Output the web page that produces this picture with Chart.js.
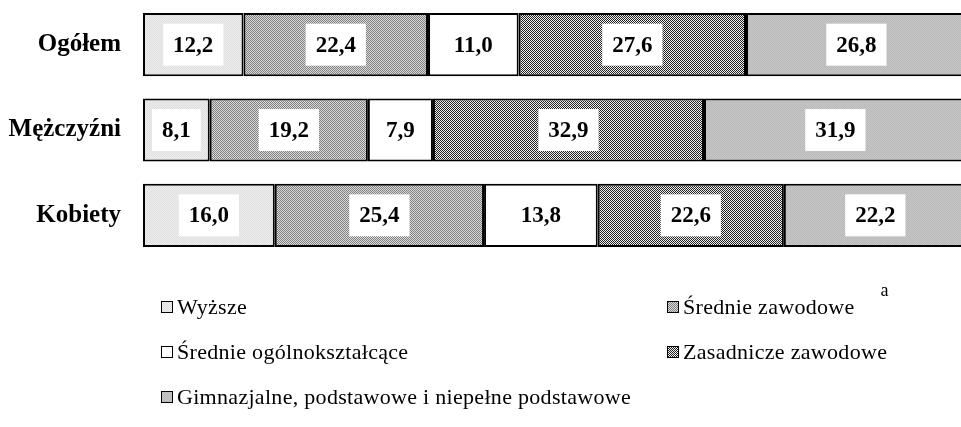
<!DOCTYPE html>
<html>
<head>
<meta charset="utf-8">
<script src="https://cdn.jsdelivr.net/npm/chart.js@4.4.0/dist/chart.umd.min.js"></script>
<style>
  html, body { margin: 0; padding: 0; background: #fff; }
  #wrap { width: 961px; height: 427px; }
</style>
</head>
<body>
<div id="wrap"><canvas id="myChart" width="961" height="427"></canvas></div>
<script>
// data
const categories = ['Ogółem', 'Mężczyźni', 'Kobiety'];
const seriesNames = ['Wyższe', 'Średnie zawodowe', 'Średnie ogólnokształcące', 'Zasadnicze zawodowe', 'Gimnazjalne, podstawowe i niepełne podstawowe'];
const wyzsze = [12.2, 8.1, 16.0];
const srednieZawodowe = [22.4, 19.2, 25.4];
const srednieOgolne = [11.0, 7.9, 13.8];
const zasadnicze = [27.6, 32.9, 22.6];
const gimnazjalne = [26.8, 31.9, 22.2];

// small 2x2 checker patterns, like the hatched fills of the original
function makePattern(c1, c2) {
    const c = document.createElement('canvas');
    c.width = 2;
    c.height = 2;
    const g = c.getContext('2d');
    g.fillStyle = c1;
    g.fillRect(0, 0, 2, 2);
    g.fillStyle = c2;
    g.fillRect(0, 0, 1, 1);
    g.fillRect(1, 1, 1, 1);
    return g.createPattern(c, 'repeat');
}

const fills = [
    makePattern('#eeeeee', '#dedede'),
    makePattern('#dadada', '#808080'),
    '#ffffff',
    makePattern('#ececec', '#262626'),
    makePattern('#c6c6c6', '#bababa')
];

const seriesValues = [wyzsze, srednieZawodowe, srednieOgolne, zasadnicze, gimnazjalne];

const datasets = seriesNames.map((name, i) => ({
    label: name,
    data: seriesValues[i],
    backgroundColor: fills[i],
    borderColor: '#000000',
    borderWidth: 2,
    borderSkipped: false,
    barPercentage: 0.74,
    categoryPercentage: 1
}));

const serif = '"Liberation Serif", "Times New Roman", serif';

// white boxes with bold numbers in the middle of each segment
const valueLabels = {
    id: 'valueLabels',
    afterDatasetsDraw(chart) {
        const ctx = chart.ctx;
        ctx.save();
        ctx.font = 'bold 23px ' + serif;
        ctx.textAlign = 'center';
        ctx.textBaseline = 'middle';
        chart.data.datasets.forEach((ds, i) => {
            const meta = chart.getDatasetMeta(i);
            meta.data.forEach((bar, j) => {
                const text = ds.data[j].toFixed(1).replace('.', ',');
                const cx = (bar.x + bar.base) / 2;
                const w = ctx.measureText(text).width + 20;
                ctx.fillStyle = '#ffffff';
                ctx.fillRect(cx - w / 2, bar.y - 21, w, 42);
                ctx.fillStyle = '#000000';
                ctx.fillText(text, cx, bar.y + 1);
            });
        });
        ctx.restore();
    }
};

// legend in two columns, drawn below the bars
const legendBoxes = {
    id: 'legendBoxes',
    afterDraw(chart) {
        const ctx = chart.ctx;
        const spots = [[161, 307], [667, 307], [161, 352], [667, 352], [161, 397]];
        ctx.save();
        ctx.textBaseline = 'middle';
        ctx.textAlign = 'left';
        ctx.letterSpacing = '0.3px';
        chart.data.datasets.forEach((ds, i) => {
            const [x, y] = spots[i];
            ctx.fillStyle = ds.backgroundColor;
            ctx.fillRect(x, y - 6, 11, 11);
            ctx.strokeStyle = '#000';
            ctx.lineWidth = 1;
            ctx.strokeRect(x + 0.5, y - 5.5, 11, 11);
            ctx.fillStyle = '#000';
            ctx.font = '22px ' + serif;
            ctx.fillText(ds.label, x + 16, y + 1);
            if (i === 1) {
                const w = ctx.measureText(ds.label).width;
                ctx.font = '18px ' + serif;
                ctx.fillText('a', x + 16 + w + 26, y - 16);
            }
        });
        ctx.restore();
    }
};

const ctx = document.getElementById('myChart').getContext('2d');
const myChart = new Chart(ctx, {
    type: 'bar',
    data: {
        labels: categories,
        datasets: datasets
    },
    options: {
        indexAxis: 'y',
        responsive: false,
        animation: false,
        layout: {
            padding: { top: 2, bottom: 169, right: 0, left: 0 }
        },
        plugins: {
            legend: { display: false },
            tooltip: { enabled: false }
        },
        scales: {
            x: {
                stacked: true,
                display: false,
                min: 0,
                max: 99.3
            },
            y: {
                stacked: true,
                grid: { display: false, drawTicks: false },
                border: { display: false },
                ticks: {
                    color: '#000',
                    padding: 22,
                    font: { family: serif, size: 25, weight: 'bold' }
                },
                afterFit(scale) {
                    scale.width = 143;
                    scale.paddingTop = 0;
                    scale.paddingBottom = 0;
                }
            }
        }
    },
    plugins: [valueLabels, legendBoxes]
});
</script>
</body>
</html>
